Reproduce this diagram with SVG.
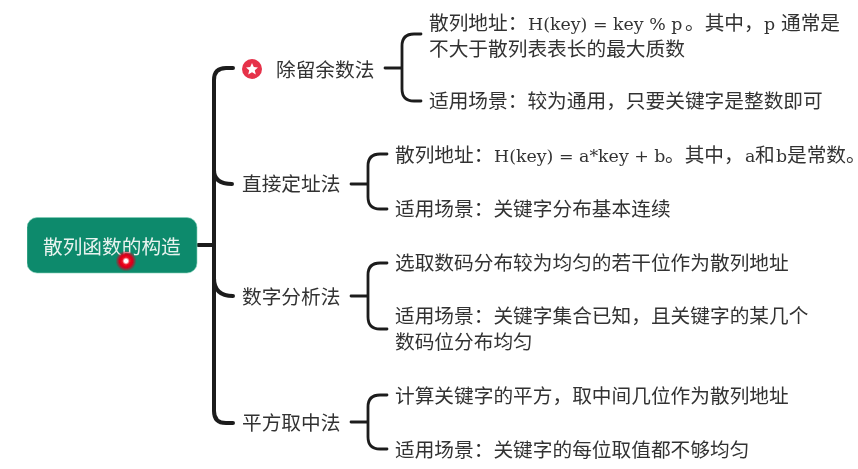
<svg xmlns="http://www.w3.org/2000/svg" width="858" height="469" viewBox="0 0 858 469">
<style>
text{font-family:"Noto Sans CJK SC","Noto Sans",sans-serif;font-size:19.7px;fill:#333}
.s{font-family:"DejaVu Serif","Noto Sans CJK SC",serif;font-size:17.4px}
.c{fill:none;stroke:#1f1f1f;stroke-linecap:round}
.m{stroke-width:4px}
.t{stroke-width:2.8px}
</style>
<defs>
<radialGradient id="glow"><stop offset="0" stop-color="#fff"/><stop offset="0.16" stop-color="#fff"/><stop offset="0.36" stop-color="#ee0a20"/><stop offset="0.62" stop-color="#d8001c"/><stop offset="1" stop-color="#c8001c" stop-opacity="0"/></radialGradient>
<filter id="soft" x="0" y="0" width="100%" height="100%"><feGaussianBlur stdDeviation="0.4"/></filter>
</defs>
<rect width="858" height="469" fill="#fff"/>
<g filter="url(#soft)">
<g id="connectors">
<path class="c m" d="M198 245H214M214 245V80Q214 68 226 68H233M214 245V278Q214 296 233 296M214 245V170Q214 184 232 184M214 245V411Q214 423 226 423H233"/>
<path class="c t" d="M385 68H402M402 68V46Q402 34 414 34H421M402 68V89Q402 101 414 101H421"/>
<path class="c t" d="M351 184H368M368 184V166Q368 154 380 154H387M368 184V197Q368 209 380 209H387"/>
<path class="c t" d="M351 296H368M368 296V275Q368 263 380 263H387M368 296V317Q368 329 380 329H387"/>
<path class="c t" d="M351 422H368M368 422V407Q368 395 380 395H387M368 422V437Q368 449 380 449H387"/>
</g>
<g id="root"><rect x="27" y="217.500" width="170" height="55.500" rx="10" fill="#0f8a6c" stroke="#7fd0b8" stroke-width="0.6"/><text x="43" y="254" style="fill:#e8f3ef">散列函数的构造</text><circle cx="126" cy="261" r="10.500" fill="url(#glow)"/></g>
<g id="n1"><circle cx="252" cy="69" r="10" fill="#e6304a"/><polygon points="252,63 253.800,67 258,67.400 254.800,70.200 255.800,74.500 252,72.200 248.200,74.500 249.200,70.200 246,67.400 250.200,67" fill="#fff"/><text x="276" y="77">除留余数法</text></g>
<g id="n2"><text x="242" y="191">直接定址法</text></g>
<g id="n3"><text x="242" y="304">数字分析法</text></g>
<g id="n4"><text x="242" y="430">平方取中法</text></g>
<g id="n1a"><text x="429" y="30">散列地址：</text><text class="s" x="528" y="30">H(key) = key % p</text><text x="685" y="30">。其中，</text><text class="s" x="764" y="30">p</text><text x="781" y="30">通常是</text><text x="429" y="56">不大于散列表表长的最大质数</text></g>
<g id="n1b"><text x="429" y="108">适用场景：较为通用，只要关键字是整数即可</text></g>
<g id="n2a"><text x="395" y="162">散列地址：</text><text class="s" x="494" y="162">H(key) = a*key + b</text><text x="665" y="162">。其中，</text><text class="s" x="745" y="162">a</text><text x="755" y="162">和</text><text class="s" x="776" y="162">b</text><text x="787" y="162">是常数。</text></g>
<g id="n2b"><text x="395" y="216">适用场景：关键字分布基本连续</text></g>
<g id="n3a"><text x="395" y="270">选取数码分布较为均匀的若干位作为散列地址</text></g>
<g id="n3b"><text x="395" y="323">适用场景：关键字集合已知，且关键字的某几个</text><text x="395" y="349">数码位分布均匀</text></g>
<g id="n4a"><text x="395" y="403">计算关键字的平方，取中间几位作为散列地址</text></g>
<g id="n4b"><text x="395" y="457">适用场景：关键字的每位取值都不够均匀</text></g>
</g>
</svg>
